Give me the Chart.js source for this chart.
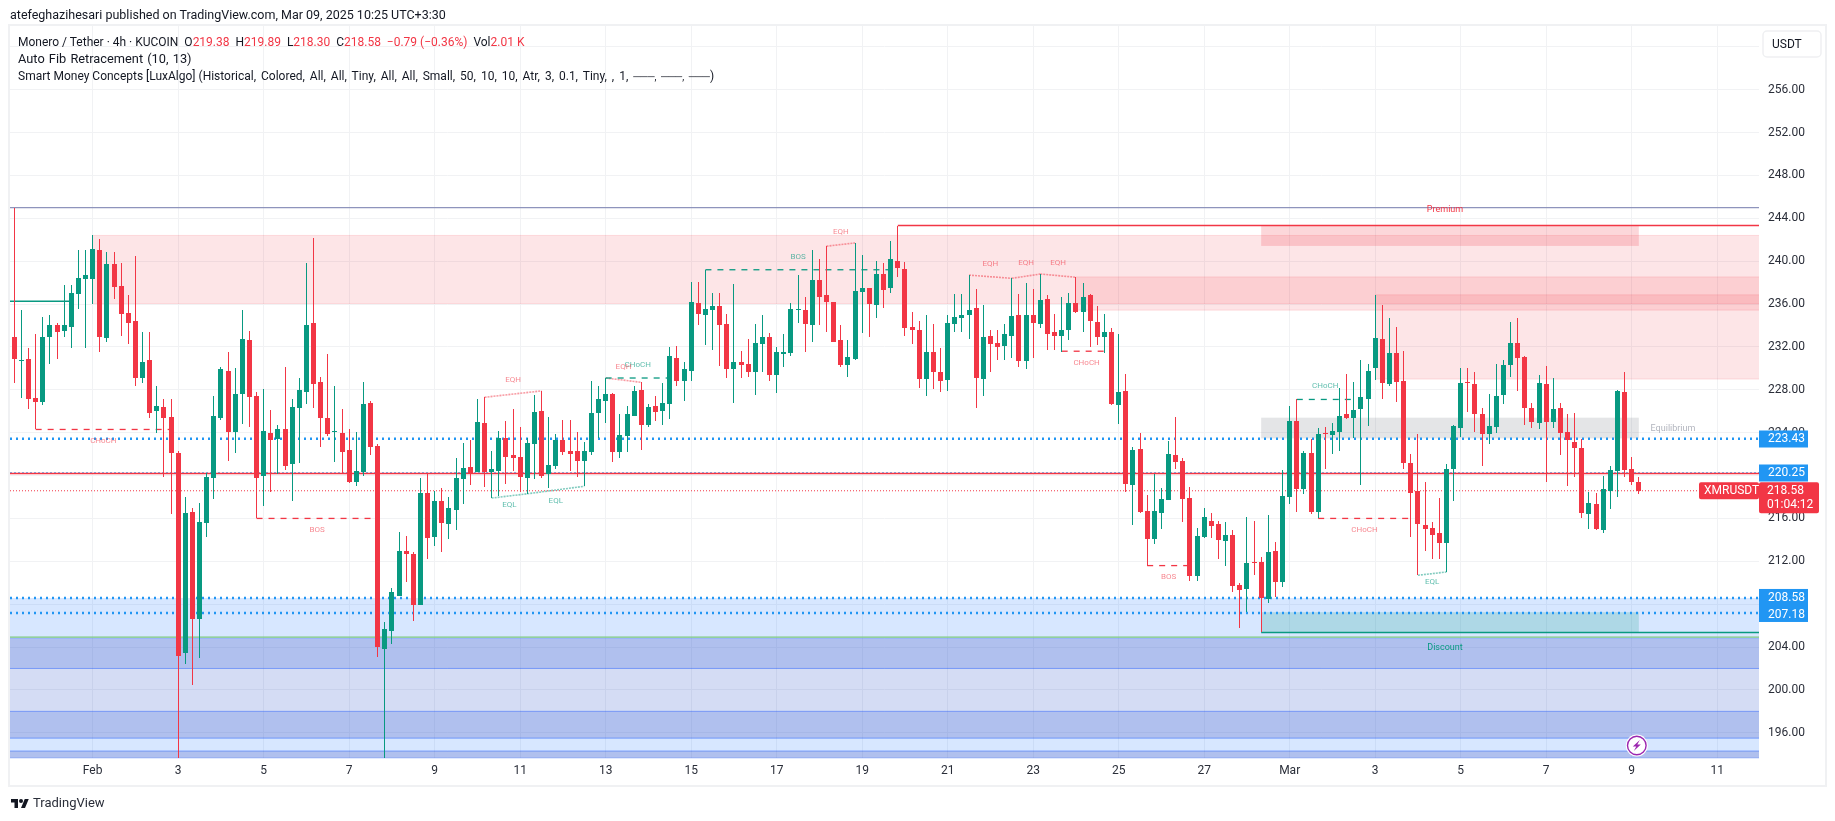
<!DOCTYPE html>
<html>
<head>
<meta charset="utf-8">
<title>XMRUSDT 4h</title>
<script src="https://cdn.jsdelivr.net/npm/chart.js@4/dist/chart.umd.js"></script>
<style>
	html, body { margin: 0; padding: 0; background: #fff; }
	#wrap { position: relative; width: 1835px; height: 821px; overflow: hidden; font-family: Roboto, sans-serif; color: #131722; }
	canvas { position: absolute; left: 0; top: 0; }
	.txt { position: absolute; white-space: pre; font-size: 12.3px; line-height: 16px; }
	.red { color: #f23645; }
	#logo { position: absolute; left: 10px; top: 797px; width: 20px; height: 14px; }
</style>
</head>
<body>
<div id="wrap">
	<canvas id="chart" width="1835" height="821"></canvas>
	<div class="txt" style="left:10px;top:7px;font-size:12.5px">atefeghazihesari published on TradingView.com, Mar 09, 2025 10:25 UTC+3:30</div>
	<div class="txt" style="left:18px;top:34px;font-size:12px">Monero / Tether · 4h · KUCOIN  O<span class="red">219.38</span>  H<span class="red">219.89</span>  L<span class="red">218.30</span>  C<span class="red">218.58</span>  <span class="red">−0.79 (−0.36%)</span>  Vol<span class="red">2.01 K</span></div>
	<div class="txt" style="left:18px;top:51px;font-size:12.8px;word-spacing:1px">Auto Fib Retracement (10, 13)</div>
	<div class="txt" style="left:18px;top:68px;font-size:12px">Smart Money Concepts [LuxAlgo] <span style="word-spacing:2px">(Historical, Colored, All, All, Tiny, All, All, Small, 50, 10, 10, Atr, 3, 0.1, Tiny, , 1, <span style="font-size:10px">───, ───, ───</span>)</span></div>
	<svg id="logo" viewBox="0 0 36 28"><path fill="#131722" d="M14 22H7V11H0V4h14v18zM28 22h-8l7.5-18h8L28 22z"/><circle fill="#131722" cx="20" cy="8" r="4"/></svg>
	<div class="txt" style="left:33px;top:795px;font-size:13px;color:#2a2e39">TradingView</div>
</div>
<script>
// 4h candles
const opens = [
	232.9,230.7,230.9,227.2,226.9,232.9,234.0,233.5,233.9,236.9,
	238.3,238.3,241.0,232.8,239.7,237.7,235.2,234.4,229.1,230.8,
	226.0,226.4,225.5,222.1,203.4,216.6,206.6,215.6,219.8,225.4,
	229.8,224.1,227.6,232.6,227.4,220.0,224.0,223.4,224.3,221.1,
	226.3,227.8,234.2,228.7,225.4,224.1,224.0,222.4,219.4,220.3,
	226.8,222.8,203.8,205.5,208.8,213.0,212.7,207.9,218.4,214.3,
	217.6,215.5,216.8,219.7,220.8,220.3,224.9,220.3,220.4,223.5,
	221.9,221.7,219.8,222.9,226.0,220.1,220.9,223.3,222.3,222.3,
	221.4,222.2,225.8,227.0,227.6,222.2,223.7,225.6,228.0,224.7,
	226.5,226.0,226.7,231.0,228.8,229.8,236.1,235.0,235.4,235.8,
	234.1,229.9,230.6,230.4,229.7,232.3,232.9,229.4,231.3,231.4,
	235.4,235.4,234.0,238.2,236.8,236.2,232.6,230.3,230.9,237.1,
	237.5,235.9,238.8,237.5,240.0,239.3,233.9,233.6,229.0,231.5,
	229.7,228.9,234.1,234.7,235.0,235.6,229.0,233.0,232.4,232.1,
	233.0,235.0,230.7,235.0,234.1,236.5,233.4,233.0,233.6,236.1,
	235.3,236.8,234.3,232.9,233.4,226.6,227.9,219.1,222.5,216.7,
	214.1,216.5,217.7,221.9,221.4,217.9,210.6,214.3,215.8,215.5,
	213.9,214.5,209.8,209.4,211.9,211.9,208.5,213.0,210.1,218.0,
	225.1,218.7,222.1,216.6,224.0,223.8,224.1,225.7,225.4,226.2,
	227.1,230.0,232.7,228.5,231.4,228.8,221.2,218.6,215.4,215.1,
	214.6,213.7,220.6,224.4,228.7,228.5,225.7,223.9,224.5,227.5,
	230.3,232.4,231.1,226.3,224.9,228.5,225.0,226.3,224.1,223.1,
	222.6,216.4,217.3,214.9,218.6,220.4,227.8,220.6,219.38
];
const highs = [
	245.0,235.4,231.9,233.2,234.8,235.0,234.2,237.8,237.8,241.0,
	241.0,242.4,242.1,240.9,240.9,239.8,236.8,240.5,233.4,233.4,
	228.4,227.1,227.1,222.3,218.0,217.0,217.4,220.2,227.4,230.1,
	231.5,230.0,235.4,233.5,227.8,228.1,226.1,224.7,230.1,227.1,
	229.1,239.8,242.2,229.2,231.3,228.4,226.2,224.3,224.1,228.7,
	227.0,222.9,206.3,209.5,214.7,214.4,212.9,219.8,220.1,218.6,
	218.8,218.0,221.6,223.0,223.3,227.1,227.3,222.3,224.2,225.1,
	226.2,224.5,223.5,227.5,227.9,225.5,223.9,225.2,225.2,224.1,
	223.1,228.8,228.4,229.1,227.7,225.7,226.5,228.4,228.7,226.7,
	227.4,228.6,232.0,232.1,230.6,238.1,238.1,239.2,237.0,237.0,
	235.1,237.9,231.6,232.7,234.1,235.0,233.3,232.0,233.2,236.1,
	238.7,236.7,241.0,240.2,241.4,236.2,234.0,232.6,241.7,240.6,
	237.5,240.0,239.8,241.9,243.3,239.9,235.3,234.4,235.0,234.1,
	231.9,235.0,236.9,236.9,238.7,237.4,235.9,233.6,233.6,234.1,
	238.4,236.9,238.0,237.4,238.8,236.8,235.1,236.7,237.0,238.5,
	238.0,236.9,235.8,235.1,233.8,233.2,229.5,222.7,224.0,218.2,
	220.1,218.8,223.2,225.5,221.6,218.9,215.1,217.0,216.5,215.8,
	215.7,214.9,210.0,216.1,215.8,212.4,216.3,213.8,220.5,226.5,
	227.1,222.3,223.4,224.4,224.5,224.9,228.2,229.5,228.7,230.8,
	230.4,236.8,235.9,234.7,233.9,231.6,222.0,223.9,219.4,215.7,
	217.9,221.1,224.7,230.0,230.0,229.7,226.3,227.6,230.4,230.8,
	234.3,234.7,231.2,226.8,229.4,230.2,229.1,226.8,225.7,225.8,
	223.4,218.5,218.4,220.0,220.9,228.0,229.7,221.7,219.89
];
const lows = [
	228.6,227.2,226.2,224.3,226.6,230.4,230.9,232.9,231.9,235.5,
	231.9,236.0,231.5,232.5,236.5,233.0,232.3,228.4,228.6,225.4,
	224.0,219.9,216.4,193.5,202.4,200.5,203.0,214.3,217.8,225.2,
	221.4,222.1,224.8,224.5,216.0,217.2,218.5,220.1,220.5,217.6,
	221.2,226.7,226.3,222.7,223.7,221.3,220.2,219.3,219.0,220.0,
	221.9,203.1,193.5,204.3,208.8,210.1,206.4,207.9,212.2,213.4,
	212.9,214.1,214.9,217.3,219.1,220.3,218.9,217.9,218.1,219.2,
	220.4,218.5,218.3,219.7,219.8,218.8,220.6,221.9,220.4,219.9,
	219.0,221.9,223.5,224.9,221.3,221.6,222.2,225.6,222.4,224.5,
	225.1,224.7,225.3,228.4,227.0,228.8,234.0,232.2,231.7,230.2,
	229.1,226.8,229.1,229.2,227.5,229.7,228.8,227.7,230.1,231.2,
	234.2,231.5,232.5,234.0,233.4,232.5,230.1,229.2,230.8,233.3,
	232.9,234.7,235.6,237.0,238.5,233.0,232.3,228.2,227.4,228.1,
	227.8,227.9,233.4,233.4,232.7,226.3,227.4,229.7,230.8,230.8,
	231.0,230.1,229.9,231.0,233.8,231.7,231.7,231.5,232.6,235.2,
	233.4,232.0,232.2,231.4,226.6,224.8,218.5,215.4,216.5,211.6,
	213.6,215.0,217.7,220.6,215.7,210.2,210.2,214.2,214.2,212.2,
	211.6,209.1,205.8,207.3,210.7,205.4,208.1,208.7,209.6,217.3,
	216.6,218.3,216.4,216.0,220.6,222.0,222.3,225.3,223.5,219.1,
	224.6,228.9,227.1,228.4,226.9,220.6,214.3,210.7,213.0,212.2,
	212.2,211.0,217.6,223.6,225.9,224.1,220.9,222.9,224.0,226.7,
	229.2,227.9,224.7,224.4,224.3,219.4,224.4,221.9,219.0,219.9,
	216.0,215.0,214.9,214.6,216.9,218.0,219.9,219.1,218.30
];
const closes = [
	230.9,230.8,227.1,226.9,232.9,234.0,233.4,234.0,237.0,238.4,
	238.7,241.1,232.9,239.7,237.6,235.1,234.2,229.1,230.6,225.8,
	226.5,225.4,222.1,203.2,216.5,206.6,215.7,219.9,225.6,229.9,
	224.1,227.6,232.7,227.3,219.8,224.2,223.3,224.3,220.9,226.4,
	228.0,234.0,228.5,225.4,223.9,224.2,222.2,219.4,220.4,226.7,
	222.7,204.0,205.7,209.1,213.0,212.7,207.9,218.4,214.2,217.6,
	215.6,217.0,219.8,220.7,220.1,225.0,220.3,220.6,223.5,221.7,
	221.6,219.9,223.0,225.9,220.0,221.0,223.3,222.2,222.0,221.4,
	222.3,225.8,227.1,227.6,222.2,223.8,225.7,227.9,224.7,226.4,
	225.9,226.8,231.2,228.8,229.9,236.2,235.1,235.5,235.8,234.0,
	229.9,230.6,230.3,229.7,232.4,232.9,229.4,231.5,231.5,235.5,
	235.5,234.1,238.2,236.7,236.2,232.5,230.3,231.1,237.2,237.5,
	236.0,238.8,237.3,240.2,239.4,233.8,233.6,229.0,231.5,229.7,
	228.8,234.2,234.8,235.0,235.4,229.1,232.9,232.3,232.0,233.2,
	234.9,230.7,235.0,234.2,236.4,233.2,233.0,233.6,236.1,235.3,
	236.7,234.4,232.9,233.4,226.7,227.8,219.2,222.4,216.6,214.1,
	216.7,217.8,222.0,221.3,217.8,210.6,214.4,216.1,215.3,214.0,
	214.5,209.7,209.3,211.8,211.8,208.6,212.9,210.1,218.1,225.1,
	218.7,222.1,216.6,223.9,223.9,224.2,225.6,225.4,226.1,227.3,
	229.8,232.8,228.6,231.4,228.7,221.2,218.4,215.5,215.0,214.5,
	213.7,220.6,224.6,228.6,228.6,225.7,223.9,224.6,227.4,230.3,
	232.4,231.0,226.3,225.0,228.6,225.0,226.2,224.0,223.3,222.6,
	216.5,217.4,215.0,218.7,220.5,227.9,220.5,219.4,218.58
];
const candleIndex = opens.map((_, i) => i);

// axes
const priceTicks = [196,200,204,208,212,216,220,224,228,232,236,240,244,248,252,256,260];
const dayTickIndex = [11,23,35,47,59,71,83,95,107,119,131,143,155,167,179,191,203,215,227,239];
const dayTickLabels = ['Feb','3','5','7','9','11','13','15','17','19','21','23','25','27','Mar','3','5','7','9','11'];
const priceMin = 193.65, priceMax = 261.94;
const indexMin = -0.6, indexMax = 244.87;

// price levels
const lastPrice = 218.58;
const fibLevels = [223.43, 220.25, 208.58, 207.18];
const redLevel = 220.2;
const greenLevel = 204.92;
const topLevel = 245.0;
const leftLevel = [236.27];
const leftLevelEnd = 8;
const trailingHigh = 243.33, trailingHighStart = 124;
const trailingLow = 205.35, trailingLowStart = 175;

// shaded zones  [from index, to index, upper price, lower price]
const premiumZones = [[11, indexMax, 242.4, 236.05], [149, indexMax, 238.53, 235.43], [191, indexMax, 236.86, 229.0]];
const premiumBox = [175, 228, 243.33, 241.42];
const equilibriumBox = [175, 228, 225.4, 223.47];
const discountBox = [175, 228, 207.25, 205.35];
const fibBandEdges = [208.58, 204.8, 202.0, 198.0, 195.5, 194.3, priceMin];

// market structure  [index, price, index, price]
const bullishBreakNames = ['CHoCH','BOS','CHoCH'];
const bullishBreaks = [[83,229.1,92,229.1],[97,239.2,123,239.2],[180,227.1,188,227.1]];
const bearishBreakNames = ['CHoCH','BOS','CHoCH','BOS','CHoCH'];
const bearishBreaks = [[3,224.3,22,224.3],[34,216.0,51,216.0],[147,231.6,154,231.6],[159,211.6,165,211.6],[183,216.0,196,216.0]];
const equalHighs = [[66,227.3,74,227.9],[83,229.1,88,228.7],[114,241.4,118,241.7],[134,238.7,140,238.4],[140,238.4,144,238.8],[144,238.8,149,238.5]];
const equalLows = [[67,217.9,72,218.3],[72,218.3,80,219.0],[197,210.7,201,211.0]];
const zoneNames = ['Premium','Discount','Equilibrium'];
const zoneNameIndex = [200.8,200.8,232.8];
const zoneNamePrice = [244.77,203.94,224.4];

const UP = '#089981', DOWN = '#f23645', BLUE = '#2196f3';
const isUp = i => closes[i] >= opens[i];
const candleColor = c => isUp(c.dataIndex) ? UP : DOWN;

function levelLine(points, color, dash, width) {
	return {
		type: 'line',
		data: points.map(p => ({ x: p[0], y: p[1] })),
		borderColor: color,
		borderDash: dash,
		borderWidth: width,
		pointRadius: 0,
		tension: 0,
		order: 5
	};
}
function segments(list, color, dash, width) {
	return list.map(s => levelLine([[s[0], s[1]], [s[2], s[3]]], color, dash, width));
}
function flat(y, from, to, color, dash, width) {
	return levelLine([[from, y], [to, y]], color, dash, width);
}

const datasets = [
	{
		data: candleIndex.map(i => ({ x: i, y: [lows[i], highs[i]] })),
		backgroundColor: candleColor,
		barThickness: 1,
		inflateAmount: 0,
		grouped: false,
		order: 1
	},
	{
		data: candleIndex.map(i => ({ x: i, y: [opens[i], closes[i]] })),
		backgroundColor: candleColor,
		barThickness: 5,
		inflateAmount: 0,
		grouped: false,
		order: 0
	},
	flat(topLevel, indexMin, indexMax, '#8e94bc', [], 1.2),
	flat(redLevel, indexMin, indexMax, DOWN, [], 1.5),
	flat(greenLevel, indexMin, indexMax, '#7cc97e', [], 1.2),
	flat(leftLevel[0], indexMin, leftLevelEnd, UP, [], 1.5),
	flat(trailingHigh, trailingHighStart, indexMax, DOWN, [], 1.5),
	flat(trailingLow, trailingLowStart, indexMax, UP, [], 1.5),
	flat(lastPrice, indexMin, indexMax, DOWN, [1, 2], 1),
	flat(fibLevels[0], indexMin, indexMax, BLUE, [2, 4], 2.4),
	flat(fibLevels[1], indexMin, indexMax, BLUE, [2, 2], 1),
	flat(fibLevels[2], indexMin, indexMax, BLUE, [2, 4], 2.4),
	flat(fibLevels[3], indexMin, indexMax, BLUE, [2, 4], 2.4)
]
	.concat(segments(bullishBreaks, UP, [6, 6], 1.3))
	.concat(segments(bearishBreaks, DOWN, [6, 6], 1.3))
	.concat(segments(equalHighs, 'rgba(242,54,69,0.5)', [2, 1], 1.6))
	.concat(segments(equalLows, 'rgba(8,153,129,0.5)', [2, 1], 1.6));

// snap candles onto whole pixels so the wicks stay crisp
const snapCandles = {
	id: 'snapCandles',
	afterDatasetsUpdate(chart) {
		[0, 1].forEach(n => {
			chart.getDatasetMeta(n).data.forEach(el => {
				el.x = Math.round(el.x - 0.5) + 0.5;
				el.y = Math.round(el.y);
				el.base = Math.round(el.base);
				if (el.y === el.base) el.base += 1;
			});
		});
	}
};

const zones = {
	id: 'zones',
	beforeDatasetsDraw(chart) {
		const { ctx, scales: { x, y } } = chart;
		const box = (z, fill, stroke) => {
			const l = x.getPixelForValue(z[0]), r = x.getPixelForValue(z[1]);
			const t = y.getPixelForValue(z[2]), b = y.getPixelForValue(z[3]);
			ctx.fillStyle = fill;
			ctx.fillRect(l, t, r - l, b - t);
			if (stroke) {
				ctx.strokeStyle = stroke;
				ctx.lineWidth = 1;
				ctx.beginPath();
				ctx.moveTo(l, t); ctx.lineTo(r, t);
				ctx.moveTo(l, b); ctx.lineTo(r, b);
				ctx.stroke();
			}
		};
		const bandFill = ['rgba(41,85,210,0.37)', 'rgba(41,80,200,0.2)', 'rgba(41,85,210,0.37)', 'rgba(41,130,255,0.19)', 'rgba(41,85,210,0.37)'];
		box([indexMin, indexMax, fibBandEdges[0], fibBandEdges[1]], 'rgba(41,130,255,0.19)');
		bandFill.forEach((fill, n) => {
			box([indexMin, indexMax, fibBandEdges[n + 1], fibBandEdges[n + 2]], fill, 'rgba(41,98,255,0.28)');
		});
		premiumZones.forEach(z => box(z, 'rgba(242,54,69,0.13)', 'rgba(242,54,69,0.14)'));
		box(premiumBox, 'rgba(242,54,69,0.2)');
		box(equilibriumBox, 'rgba(120,123,134,0.2)');
		box(discountBox, 'rgba(8,153,129,0.2)');
	}
};

const annotations = {
	id: 'annotations',
	afterDatasetsDraw(chart) {
		const { ctx, scales: { x, y } } = chart;
		ctx.save();
		ctx.textAlign = 'center';
		ctx.textBaseline = 'middle';
		const label = (text, list, n, color, offset, useHigh) => {
			const s = list[n];
			const level = useHigh ? Math.max(s[1], s[3]) : Math.min(s[1], s[3]);
			ctx.fillStyle = color;
			ctx.fillText(text, x.getPixelForValue((s[0] + s[2]) / 2), y.getPixelForValue(level) + offset);
		};
		ctx.font = '8px Roboto';
		const softRed = 'rgba(242,54,69,0.6)', softGreen = 'rgba(8,153,129,0.65)';
		bullishBreaks.forEach((s, n) => label(bullishBreakNames[n], bullishBreaks, n, softGreen, -13, true));
		bearishBreaks.forEach((s, n) => label(bearishBreakNames[n], bearishBreaks, n, softRed, 11.5, false));
		equalHighs.forEach((s, n) => label('EQH', equalHighs, n, softRed, -11, true));
		equalLows.forEach((s, n) => label('EQL', equalLows, n, softGreen, 7, false));
		ctx.font = '9px Roboto';
		const nameColors = [DOWN, UP, '#b2b5be'];
		zoneNames.forEach((name, n) => {
			ctx.fillStyle = nameColors[n];
			ctx.fillText(name, x.getPixelForValue(zoneNameIndex[n]), y.getPixelForValue(zoneNamePrice[n]));
		});
		ctx.restore();
	},
	afterDraw(chart) {
		const { ctx, chartArea: a, scales: { x, y } } = chart;
		ctx.save();
		// frame round the whole pane
		ctx.strokeStyle = '#f0f1f3';
		ctx.lineWidth = 2;
		ctx.strokeRect(a.left - 1, a.top - 1, 1825 - a.left + 2, 785 - a.top + 2);

		// currency button
		ctx.strokeStyle = '#eff0f2';
		ctx.lineWidth = 1.5;
		ctx.fillStyle = '#fff';
		ctx.beginPath();
		ctx.roundRect(a.right + 4, 31, 58, 26, 4);
		ctx.fill();
		ctx.stroke();
		ctx.fillStyle = '#131722';
		ctx.font = '12px Roboto';
		ctx.textBaseline = 'middle';
		ctx.fillText('USDT', a.right + 13, 45);

		// price tags on the right axis
		const tag = (price, text) => {
			const py = y.getPixelForValue(price);
			ctx.fillStyle = BLUE;
			ctx.fillRect(a.right, Math.round(py) - 8.5, 49, 17);
			ctx.fillStyle = '#fff';
			ctx.font = '12px Roboto';
			ctx.fillText(text, a.right + 9, py + 0.5);
		};
		tag(fibLevels[0], fibLevels[0].toFixed(2));
		tag(fibLevels[1], fibLevels[1].toFixed(2));
		const y1 = y.getPixelForValue(fibLevels[2]), y2 = y.getPixelForValue(fibLevels[3]);
		ctx.fillStyle = BLUE;
		ctx.fillRect(a.right, y1 - 9, 49, y2 - y1 + 18);
		ctx.fillStyle = '#fff';
		ctx.fillText(fibLevels[2].toFixed(2), a.right + 9, y1 + 0.5);
		ctx.fillText(fibLevels[3].toFixed(2), a.right + 9, y2 + 2);

		const py = y.getPixelForValue(lastPrice);
		ctx.fillStyle = DOWN;
		ctx.beginPath();
		ctx.roundRect(a.right - 60, py - 8.5, 60, 17, 2);
		ctx.roundRect(a.right, py - 8.5, 60, 31, 2);
		ctx.fill();
		ctx.fillStyle = '#fff';
		ctx.fillText('XMRUSDT', a.right - 55, py + 0.5);
		ctx.fillText(lastPrice.toFixed(2), a.right + 8, py + 0.5);
		ctx.fillText('01:04:12', a.right + 8, py + 14.5);

		// lightning marker under the last candle
		const cx = x.getPixelForValue(228) - 2, cy = a.bottom - 12.5;
		ctx.fillStyle = '#fff';
		ctx.beginPath();
		ctx.arc(cx, cy, 11, 0, Math.PI * 2);
		ctx.fill();
		ctx.strokeStyle = '#9c27b0';
		ctx.lineWidth = 1.4;
		ctx.beginPath();
		ctx.arc(cx, cy, 9.3, 0, Math.PI * 2);
		ctx.stroke();
		ctx.fillStyle = '#9c27b0';
		ctx.beginPath();
		ctx.moveTo(cx + 3, cy - 5.5);
		ctx.lineTo(cx - 4, cy + 1);
		ctx.lineTo(cx - 0.5, cy + 1);
		ctx.lineTo(cx - 3, cy + 5.5);
		ctx.lineTo(cx + 4, cy - 1);
		ctx.lineTo(cx + 0.5, cy - 1);
		ctx.closePath();
		ctx.fill();
		ctx.restore();
	}
};

new Chart(document.getElementById('chart'), {
	type: 'bar',
	data: { datasets },
	plugins: [snapCandles, zones, annotations],
	options: {
		responsive: false,
		animation: false,
		events: [],
		layout: { padding: { left: 10, top: 26, right: 10, bottom: 36 } },
		plugins: { legend: { display: false }, tooltip: { enabled: false }, title: { display: false } },
		scales: {
			x: {
				type: 'linear',
				offset: false,
				min: indexMin,
				max: indexMax,
				afterBuildTicks: s => { s.ticks = dayTickIndex.map(v => ({ value: v })); },
				afterFit: s => { s.height = 27; },
				grid: { color: '#f1f2f4', drawTicks: false, offset: false },
				border: { display: false },
				ticks: {
					autoSkip: false,
					maxRotation: 0,
					padding: 6,
					color: '#2a2e39',
					font: { family: 'Roboto', size: 12 },
					callback: (v, i) => dayTickLabels[i]
				}
			},
			y: {
				position: 'right',
				min: priceMin,
				max: priceMax,
				afterBuildTicks: s => { s.ticks = priceTicks.map(v => ({ value: v })); },
				afterFit: s => { s.width = 66; },
				grid: { color: '#f1f2f4', drawTicks: false },
				border: { display: false },
				ticks: {
					autoSkip: false,
					padding: 9,
					color: '#2a2e39',
					font: { family: 'Roboto', size: 12 },
					callback: v => v === 260 ? '' : v.toFixed(2)
				}
			}
		}
	}
});
</script>
</body>
</html>
